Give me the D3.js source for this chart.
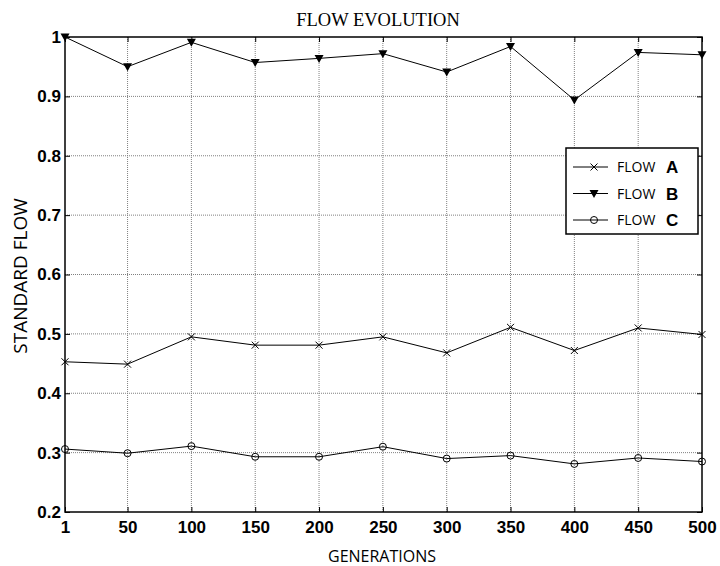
<!DOCTYPE html>
<html>
<head>
<meta charset="utf-8">
<script src="https://cdn.jsdelivr.net/npm/d3@7"></script>
<style>
  body { margin: 0; background: #fff; }
  svg { display: block; }
</style>
</head>
<body>
<div id="chart"></div>
<script>
// data
const generations = [1, 50, 100, 150, 200, 250, 300, 350, 400, 450, 500];
const flowA = [0.453, 0.449, 0.495, 0.481, 0.481, 0.495, 0.468, 0.511, 0.472, 0.510, 0.499];
const flowB = [1.000, 0.950, 0.991, 0.957, 0.964, 0.972, 0.941, 0.984, 0.894, 0.974, 0.970];
const flowC = [0.306, 0.299, 0.311, 0.293, 0.293, 0.310, 0.290, 0.295, 0.281, 0.291, 0.285];
const yTicks = [0.2, 0.3, 0.4, 0.5, 0.6, 0.7, 0.8, 0.9, 1];
const seriesNames = ["A", "B", "C"];

const width = 720, height = 566;
const margin = { top: 37, right: 18, bottom: 54, left: 65 };
const w = width - margin.left - margin.right;
const h = height - margin.top - margin.bottom;

const svg = d3.select("#chart").append("svg")
	.attr("width", width)
	.attr("height", height);

const g = svg.append("g")
	.attr("transform", "translate(" + margin.left + "," + margin.top + ")");

// Scales
const x = d3.scaleLinear().domain([1, 500]).range([0, w]);
const y = d3.scaleLinear().domain([0.2, 1]).range([h, 0]);

// Grid lines
g.append("g").selectAll("line")
	.data(generations.slice(1, -1))
	.enter().append("line")
	.attr("x1", d => x(d)).attr("x2", d => x(d))
	.attr("y1", 0).attr("y2", h)
	.attr("stroke", "#808080")
	.attr("stroke-width", 1)
	.attr("stroke-dasharray", "1,1");

g.append("g").selectAll("line")
	.data(yTicks.slice(1, -1))
	.enter().append("line")
	.attr("x1", 0).attr("x2", w)
	.attr("y1", d => y(d)).attr("y2", d => y(d))
	.attr("stroke", "#808080")
	.attr("stroke-width", 1)
	.attr("stroke-dasharray", "1,1");

// tick label styling
function styleLabels(s) {
	s.selectAll("text")
		.attr("fill", "#000")
		.attr("font-family", "'Liberation Sans', Arial, sans-serif")
		.attr("font-weight", "bold")
		.attr("font-size", 17);
}

// Axes (ticks inward, on all four sides)
const xAxis = d3.axisBottom(x).tickValues(generations).tickSize(-5).tickPadding(9).tickFormat(d3.format("d"));
const yAxis = d3.axisLeft(y).tickValues(yTicks).tickSize(-5).tickPadding(4).tickFormat(d => d === 1 ? "1" : d3.format(".1f")(d));

g.append("g")
	.attr("transform", "translate(0," + h + ")")
	.call(xAxis)
	.call(s => s.select(".domain").remove())
	.call(styleLabels);

g.append("g")
	.call(yAxis)
	.call(s => s.select(".domain").remove())
	.call(styleLabels);

g.append("g")
	.call(d3.axisTop(x).tickValues(generations).tickSize(-5).tickFormat(""))
	.call(s => s.select(".domain").remove());

g.append("g")
	.attr("transform", "translate(" + w + ",0)")
	.call(d3.axisRight(y).tickValues(yTicks).tickSize(-5).tickFormat(""))
	.call(s => s.select(".domain").remove());

// Box
g.append("rect")
	.attr("width", w).attr("height", h)
	.attr("fill", "none")
	.attr("stroke", "#000")
	.attr("stroke-width", 1.5);

// Lines
const line = d3.line()
	.x((d, i) => x(generations[i]))
	.y(d => y(d));

const allSeries = [flowA, flowB, flowC];
allSeries.forEach(s => {
	g.append("path")
		.datum(s)
		.attr("d", line)
		.attr("fill", "none")
		.attr("stroke", "#000")
		.attr("stroke-width", 1);
});

// Markers
function drawMarker(sel, type) {
	if (type === "A") {
		sel.append("path").attr("d", "M-3.5,-3.5L3.5,3.5M-3.5,3.5L3.5,-3.5")
			.attr("stroke", "#000").attr("stroke-width", 1).attr("fill", "none");
	} else if (type === "B") {
		sel.append("path").attr("d", "M-4.5,-3.5L4.5,-3.5L0,4.5Z")
			.attr("fill", "#000");
	} else {
		sel.append("circle").attr("r", 3.5)
			.attr("fill", "none").attr("stroke", "#000").attr("stroke-width", 1);
	}
}

allSeries.forEach((s, k) => {
	s.forEach((v, i) => {
		const m = g.append("g").attr("transform", "translate(" + x(generations[i]) + "," + y(v) + ")");
		drawMarker(m, seriesNames[k]);
	});
});

// Legend
const legend = svg.append("g").attr("transform", "translate(566,148)");
legend.append("rect")
	.attr("width", 132).attr("height", 86)
	.attr("fill", "#fff")
	.attr("stroke", "#000")
	.attr("stroke-width", 1.5);

seriesNames.forEach((name, i) => {
	const row = legend.append("g").attr("transform", "translate(0," + (19 + i * 26.5) + ")");
	row.append("line").attr("x1", 7).attr("x2", 42).attr("stroke", "#000").attr("stroke-width", 1);
	drawMarker(row.append("g").attr("transform", "translate(28,0)"), name);
	row.append("text")
		.attr("x", 51).attr("y", 5)
		.attr("fill", "#000")
		.attr("font-family", "'Open Sans', sans-serif")
		.attr("font-size", 14)
		.text("FLOW");
	row.append("text")
		.attr("x", 100).attr("y", 6)
		.attr("fill", "#000")
		.attr("font-family", "'Liberation Sans', Arial, sans-serif")
		.attr("font-weight", "bold")
		.attr("font-size", 17)
		.text(name);
});

// Title and axis labels
svg.append("text")
	.attr("x", 378).attr("y", 26)
	.attr("text-anchor", "middle")
	.attr("fill", "#000")
	.attr("font-family", "'Liberation Serif', 'Times New Roman', serif")
	.attr("font-size", 18.5)
	.text("FLOW EVOLUTION");

svg.append("text")
	.attr("x", 382).attr("y", 562)
	.attr("text-anchor", "middle")
	.attr("fill", "#000")
	.attr("font-family", "'Open Sans', sans-serif")
	.attr("font-size", 16)
	.text("GENERATIONS");

svg.append("text")
	.attr("transform", "translate(27,276) rotate(-90)")
	.attr("text-anchor", "middle")
	.attr("fill", "#000")
	.attr("font-family", "'Open Sans', sans-serif")
	.attr("font-size", 19)
	.text("STANDARD FLOW");
</script>
</body>
</html>
